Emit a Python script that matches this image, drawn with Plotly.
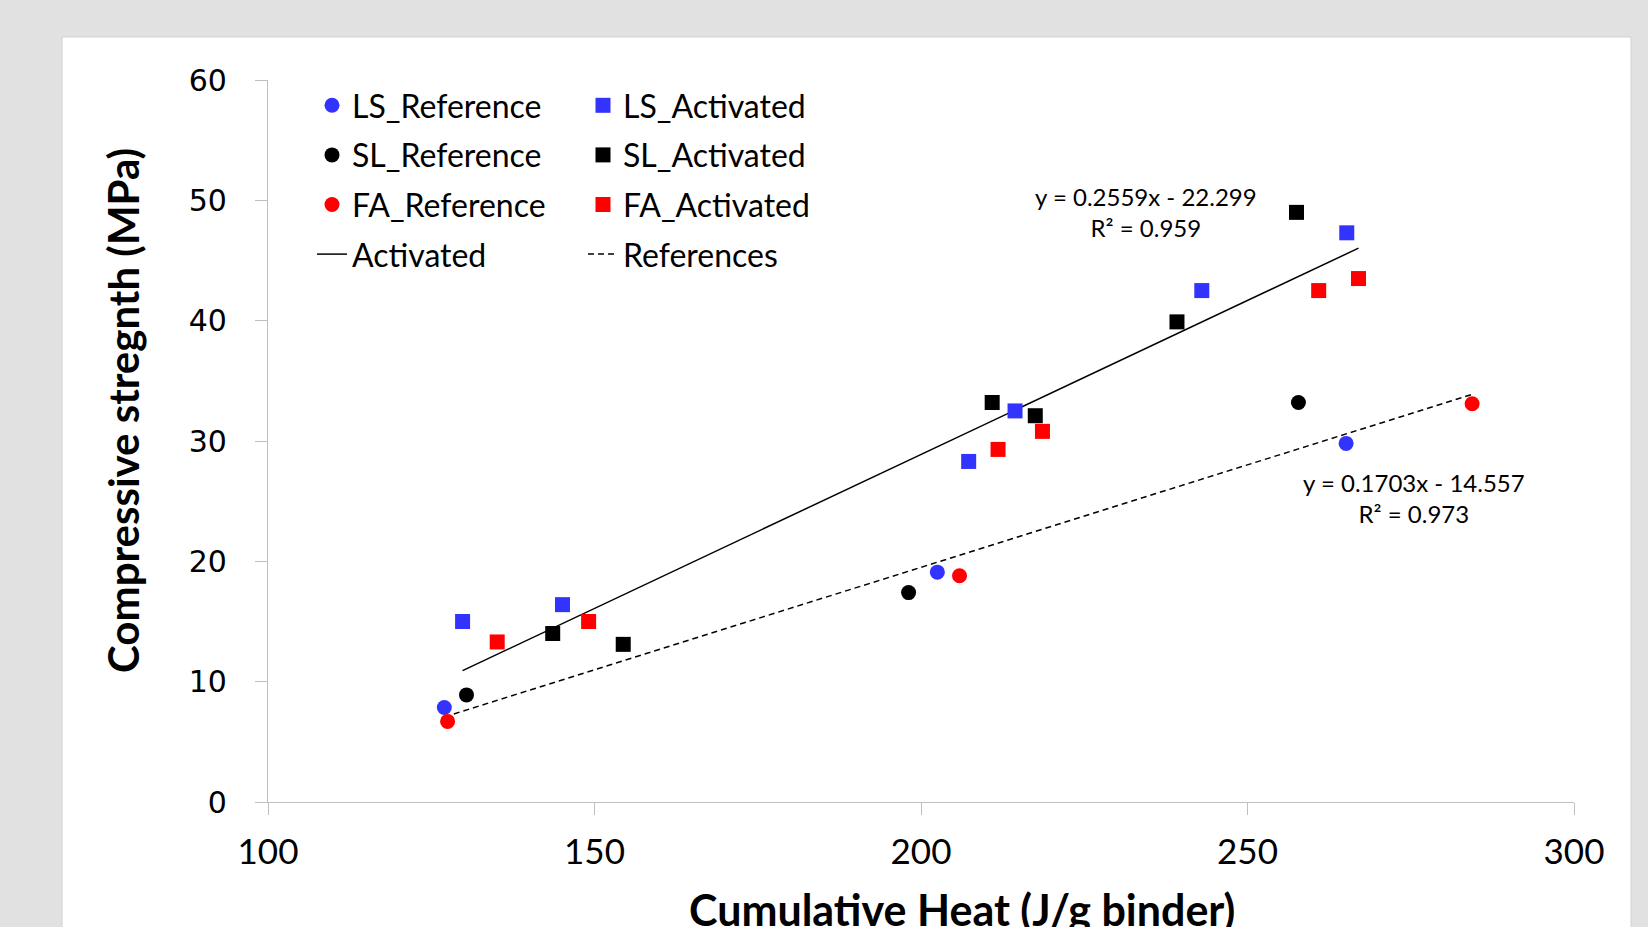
import plotly.graph_objects as go
import numpy as np

# ---- data ----
ls_ref_x = [127.0, 202.5, 265.1]
ls_ref_y = [7.85, 19.1, 29.8]
sl_ref_x = [130.4, 198.1, 257.8]
sl_ref_y = [8.9, 17.4, 33.2]
fa_ref_x = [127.5, 205.9, 284.4]
fa_ref_y = [6.7, 18.8, 33.1]

ls_act_x = [129.8, 145.1, 207.3, 214.4, 243.0, 265.2]
ls_act_y = [15.0, 16.4, 28.3, 32.5, 42.5, 47.3]
sl_act_x = [143.6, 154.4, 210.9, 217.5, 239.2, 257.5]
sl_act_y = [14.0, 13.1, 33.2, 32.1, 39.9, 49.0]
fa_act_x = [135.1, 149.1, 211.8, 218.6, 260.9, 267.0]
fa_act_y = [13.3, 15.0, 29.3, 30.8, 42.5, 43.5]

act_slope, act_icpt, act_r2 = 0.2559, -22.299, 0.959
ref_slope, ref_icpt, ref_r2 = 0.1703, -14.557, 0.973

x_ticks = [100, 150, 200, 250, 300]
y_ticks = [0, 10, 20, 30, 40, 50, 60]

BLUE = "#3333ff"
RED = "#ff0000"
BLACK = "#000000"
GRID = "#bfbfbf"
FONT = "Lato, 'Open Sans', sans-serif"

fig = go.Figure()

# trendlines
act_all = ls_act_x + sl_act_x + fa_act_x
ref_all = ls_ref_x + sl_ref_x + fa_ref_x
ax = np.array([min(act_all), max(act_all)])
rx = np.array([min(ref_all), max(ref_all)])
fig.add_trace(go.Scatter(x=ax, y=act_slope * ax + act_icpt, mode="lines",
                         name="Activated", line=dict(color=BLACK, width=1.5),
                         legend="legend", legendrank=4, legendgroup="g7"))
fig.add_trace(go.Scatter(x=rx, y=ref_slope * rx + ref_icpt, mode="lines",
                         name="References", line=dict(color=BLACK, width=1.5, dash="6px,4px"),
                         legend="legend2", legendrank=4, legendgroup="g8"))

msize = 15
def pts(x, y, name, color, symbol, leg, rank, grp):
    fig.add_trace(go.Scatter(x=x, y=y, mode="markers", name=name,
                             marker=dict(color=color, symbol=symbol, size=msize, line=dict(width=0)),
                             legend=leg, legendrank=rank, legendgroup=grp))

pts(ls_ref_x, ls_ref_y, "LS_Reference", BLUE, "circle", "legend", 1, "g1")
pts(sl_ref_x, sl_ref_y, "SL_Reference", BLACK, "circle", "legend", 2, "g2")
pts(fa_ref_x, fa_ref_y, "FA_Reference", RED, "circle", "legend", 3, "g3")
pts(ls_act_x, ls_act_y, "LS_Activated", BLUE, "square", "legend2", 1, "g4")
pts(sl_act_x, sl_act_y, "SL_Activated", BLACK, "square", "legend2", 2, "g5")
pts(fa_act_x, fa_act_y, "FA_Activated", RED, "square", "legend2", 3, "g6")

L, R, T, B = 268, 74, 80, 125
W, H = 1648, 927
pw, ph = W - L - R, H - T - B

def px_x(p):
    return (p - L) / pw

def px_y(p):
    return (H - B - p) / ph

legfont = dict(family=FONT, size=32, color="#000000")
fig.update_layout(
    width=W, height=H,
    margin=dict(l=L, r=R, t=T, b=B),
    paper_bgcolor="#e1e1e1",
    plot_bgcolor="#ffffff",
    showlegend=True,
    legend=dict(x=px_x(312), y=px_y(78), xanchor="left", yanchor="top",
                font=legfont, bgcolor="rgba(0,0,0,0)", tracegroupgap=5),
    legend2=dict(x=px_x(583), y=px_y(78), xanchor="left", yanchor="top",
                 font=legfont, bgcolor="rgba(0,0,0,0)", tracegroupgap=5),
    xaxis=dict(range=[100, 300], tickvals=x_ticks, showgrid=False, zeroline=False,
               showline=True, linecolor=GRID, linewidth=1.3,
               ticks="outside", ticklen=12, tickcolor=GRID, tickwidth=1.3,
               ticklabelstandoff=7,
               tickfont=dict(family=FONT, size=35, color="#000")),
    yaxis=dict(range=[0, 60], tickvals=y_ticks, showgrid=False, zeroline=False,
               showline=True, linecolor=GRID, linewidth=1.3,
               ticks="outside", ticklen=12, tickcolor=GRID, tickwidth=1.3,
               ticklabelstandoff=22,
               tickfont=dict(family="DejaVu Sans", size=30, color="#000")),
    shapes=[dict(type="rect", xref="paper", yref="paper", layer="below",
                 x0=px_x(62), x1=px_x(1631), y0=px_y(960), y1=px_y(37),
                 fillcolor="#ffffff", line=dict(color="#d2d2d2", width=1))],
    annotations=[
        dict(text="<b>Compressive stregnth (MPa)</b>", xref="paper", yref="paper",
             x=px_x(123), y=px_y(411), textangle=-90, showarrow=False,
             xanchor="center", yanchor="middle",
             font=dict(family=FONT, size=42, color="#000")),
        dict(text="<b>Cumulative Heat (J/g binder)</b>", xref="paper", yref="paper",
             x=px_x(962), y=px_y(910), showarrow=False,
             xanchor="center", yanchor="middle",
             font=dict(family=FONT, size=43, color="#000")),
        dict(text=f"y = {act_slope}x - {abs(act_icpt)}<br>R² = {act_r2}", xref="paper", yref="paper",
             x=px_x(1146), y=px_y(212), showarrow=False, align="center",
             xanchor="center", yanchor="middle",
             font=dict(family=FONT, size=24, color="#000")),
        dict(text=f"y = {ref_slope}x - {abs(ref_icpt)}<br>R² = {ref_r2}", xref="paper", yref="paper",
             x=px_x(1414), y=px_y(498), showarrow=False, align="center",
             xanchor="center", yanchor="middle",
             font=dict(family=FONT, size=24, color="#000")),
    ],
)

fig.write_html("out.html", config={"displayModeBar": False},
               post_script="document.body.style.margin='0';document.body.style.overflow='hidden';")
